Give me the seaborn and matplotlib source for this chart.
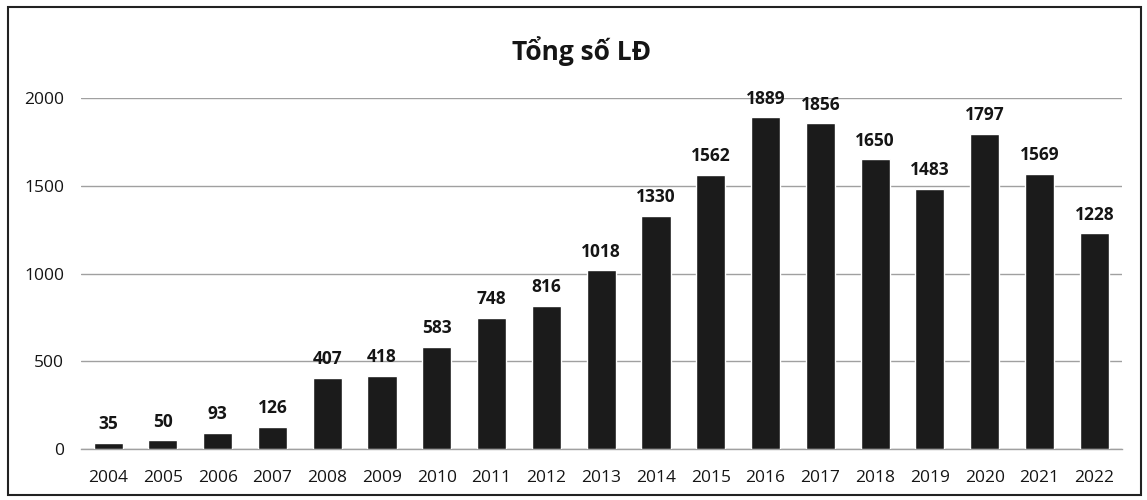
import numpy as np
import pandas as pd
import seaborn as sns
import matplotlib
matplotlib.use("Agg")
import matplotlib.pyplot as plt
from matplotlib.patches import Rectangle

years = [str(y) for y in range(2004, 2023)]
workers = [35, 50, 93, 126, 407, 418, 583, 748, 816, 1018,
           1330, 1562, 1889, 1856, 1650, 1483, 1797, 1569, 1228]
y_ticks = [0, 500, 1000, 1500, 2000]
title = "Tổng số LĐ"

sns.set_style("white")
plt.rcParams['font.family'] = ['Open Sans', 'DejaVu Sans']

df = pd.DataFrame({"year": years, "workers": workers})

fig = plt.figure(figsize=(11.47, 5.0), dpi=100)
ax = fig.add_axes([0.0703, 0.102, 0.9077, 0.702])

sns.barplot(data=df, x="year", y="workers", color="#1b1b1b",
            saturation=1, width=0.53, ax=ax, zorder=3)

ax.set_ylim(0, 2000)
ax.set_xlim(-0.5, len(years) - 0.5)
ax.set_yticks(y_ticks)
ax.yaxis.grid(True, color="#a0a0a0", linewidth=1.0, zorder=0)
ax.set_axisbelow(True)
for s in ["top", "right", "left"]:
    ax.spines[s].set_visible(False)
ax.spines["bottom"].set_color("#a0a0a0")
ax.spines["bottom"].set_linewidth(1.0)
ax.tick_params(axis="both", length=0, labelsize=12.5, colors="#151515")
ax.tick_params(axis="y", pad=12)
ax.tick_params(axis="x", pad=15)
ax.set_xlabel("")
ax.set_ylabel("")

for p, v in zip(ax.patches, workers):
    ax.annotate(str(v), (p.get_x() + p.get_width() / 2, v),
                xytext=(0, 7), textcoords="offset points",
                ha="center", va="bottom", fontsize=12.5, fontweight="bold",
                color="#151515", annotation_clip=False)

fig.text(0.507, 0.897, title, ha="center", va="center",
         fontsize=19, fontweight="bold", color="#151515")

fig.patches.append(Rectangle((0.007, 0.01), 0.988, 0.976,
                             transform=fig.transFigure, fill=False,
                             edgecolor="#222222", linewidth=1.5))

fig.savefig("out.png", dpi=100)
